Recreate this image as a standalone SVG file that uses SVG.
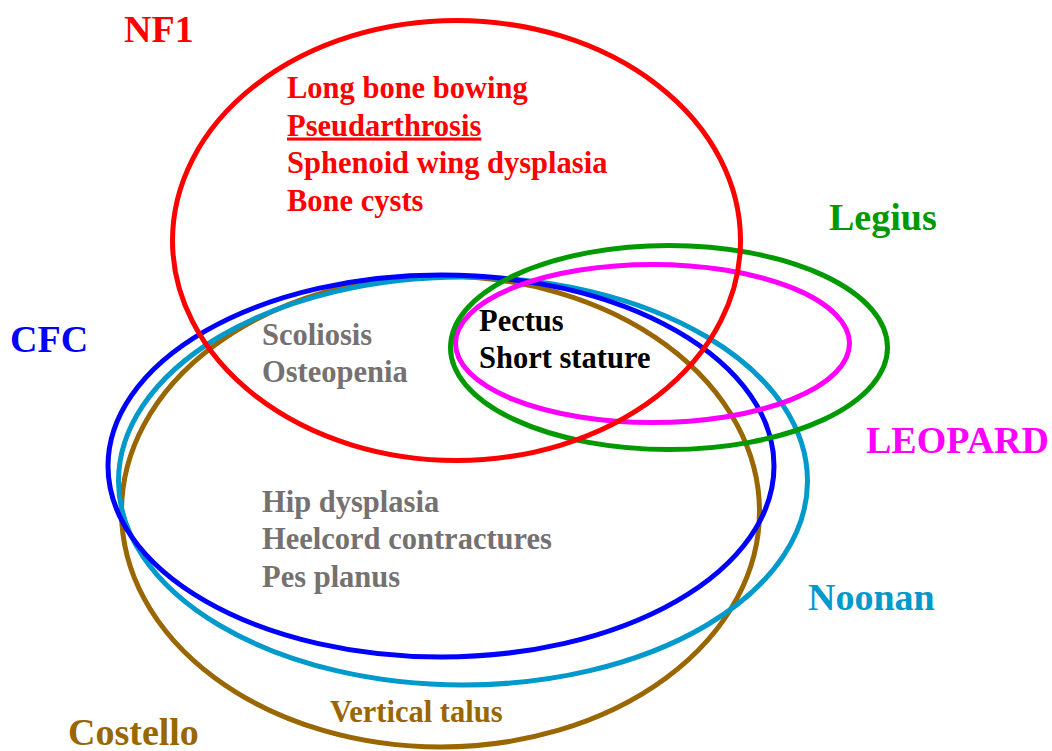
<svg xmlns="http://www.w3.org/2000/svg" width="1052" height="751" viewBox="0 0 1052 751">
<style>
.set{fill:none;stroke-width:5}
text{font-family:"Liberation Serif","Times New Roman",serif;font-weight:bold}
.lbl{font-size:38px}
.item{font-size:30.5px}
.red{fill:#FF0000}.grey{fill:#767171}.blk{fill:#000000}.brn{fill:#996600}
</style>
<rect width="1052" height="751" fill="#FFFFFF"/>
<g id="costello">
<ellipse class="set" cx="440.5" cy="511.5" rx="319" ry="235.5" stroke="#996600"/>
<text class="lbl" x="68" y="745" fill="#996600">Costello</text>
</g>
<g id="noonan">
<ellipse class="set" cx="463" cy="481" rx="344.5" ry="204" stroke="#0099CC"/>
<text class="lbl" x="808" y="610" fill="#0099CC">Noonan</text>
</g>
<g id="cfc">
<ellipse class="set" cx="441" cy="466" rx="333" ry="191" stroke="#0000FF"/>
<text class="lbl" x="10" y="352" fill="#0000FF">CFC</text>
</g>
<g id="leopard">
<ellipse class="set" cx="652.5" cy="343.5" rx="197" ry="79" stroke="#FF00FF"/>
<text class="lbl" x="866" y="453" fill="#FF00FF">LEOPARD</text>
</g>
<g id="legius">
<ellipse class="set" cx="669" cy="347.5" rx="218.5" ry="102" stroke="#009900"/>
<text class="lbl" x="829" y="230" fill="#009900">Legius</text>
</g>
<g id="nf1">
<ellipse class="set" cx="456.5" cy="240.5" rx="284" ry="220" stroke="#FF0000"/>
<text class="lbl" x="124" y="42" fill="#FF0000">NF1</text>
</g>
<g id="connectors"></g>
<g id="region-texts">
<text class="item red" x="287" y="98">Long bone bowing</text>
<text class="item red" x="287" y="135.5" text-decoration="underline">Pseudarthrosis</text>
<text class="item red" x="287" y="173">Sphenoid wing dysplasia</text>
<text class="item red" x="287" y="210.5">Bone cysts</text>
<text class="item grey" x="262" y="345">Scoliosis</text>
<text class="item grey" x="262" y="382">Osteopenia</text>
<text class="item blk" x="479" y="331">Pectus</text>
<text class="item blk" x="479" y="368">Short stature</text>
<text class="item grey" x="262" y="511.5">Hip dysplasia</text>
<text class="item grey" x="262" y="549">Heelcord contractures</text>
<text class="item grey" x="262" y="586.5">Pes planus</text>
<text class="item brn" x="330" y="722">Vertical talus</text>
</g>
</svg>
